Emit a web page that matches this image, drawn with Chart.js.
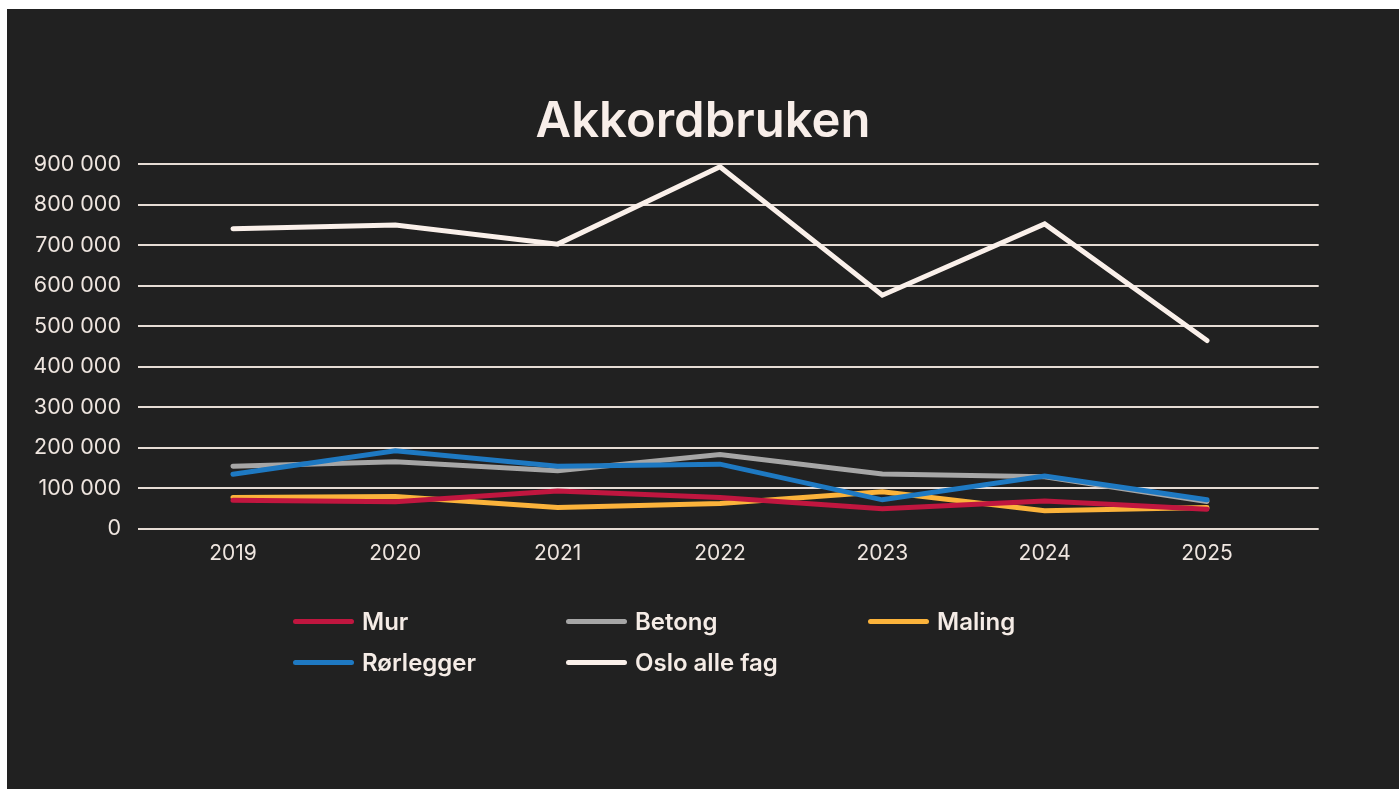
<!DOCTYPE html>
<html>
<head>
<meta charset="utf-8">
<script src="https://cdn.jsdelivr.net/npm/chart.js@4"></script>
<style>
  html, body { margin: 0; padding: 0; background: #ffffff; }
  body { width: 1399px; height: 789px; position: relative; overflow: hidden; }
  #wrap { position: absolute; left: 7px; top: 9px; width: 1392px; height: 780px; background: #212121; }
  #legend { position: absolute; left: 293px; top: 601px; display: grid; grid-template-columns: 273px 302px auto; grid-auto-rows: 41.3px; font-family: Inter, "Noto Sans", sans-serif; font-weight: 600; font-size: 24px; color: #f5ece6; }
  .item { display: flex; align-items: center; white-space: nowrap; }
  .sw { display: inline-block; width: 61px; height: 5px; border-radius: 3px; margin-right: 8px; }
</style>
</head>
<body>
<div id="wrap"><canvas id="c"></canvas></div>
<div id="legend"></div>
<script>
const years = [2019, 2020, 2021, 2022, 2023, 2024, 2025];
const seriesNames = ["Mur", "Betong", "Maling", "Rørlegger", "Oslo alle fag"];
const mur       = [71000, 67000, 94000, 78000, 50000, 69000, 49000];
const betong    = [155000, 166000, 144000, 184000, 136000, 129000, 68000];
const maling    = [78000, 80000, 53000, 63000, 92000, 45000, 53000];
const rorlegger = [135000, 193000, 155000, 160000, 72000, 131000, 72000];
const oslo      = [741000, 750000, 703000, 894000, 577000, 753000, 465000];
const yTicks    = [0, 100000, 200000, 300000, 400000, 500000, 600000, 700000, 800000, 900000];

const colors = ["#c0163f", "#a6a6a6", "#fbb33b", "#1e79c2", "#faf0ea"];
const drawOrder = [2, 3, 4, 1, 0];
const values = [mur, betong, maling, rorlegger, oslo];

const fmt = v => String(v).replace(/\B(?=(\d{3})+(?!\d))/g, "\u00a0");

const datasets = seriesNames.map((name, i) => ({
  label: name,
  data: years.map((yr, j) => ({ x: yr, y: values[i][j] })),
  borderColor: colors[i],
  backgroundColor: colors[i],
  borderWidth: 5,
  borderCapStyle: "round",
  borderJoinStyle: "miter",
  pointRadius: 0,
  tension: 0,
  order: drawOrder[i]
}));

Chart.defaults.font.family = "Inter, 'Noto Sans', sans-serif";

new Chart(document.getElementById("c"), {
  type: "line",
  data: { datasets },
  options: {
    responsive: true,
    maintainAspectRatio: false,
    animation: false,
    layout: { padding: { left: 0, right: 0, top: 0, bottom: 200 } },
    plugins: {
      legend: { display: false },
      tooltip: { enabled: false },
      title: {
        display: true,
        text: "Akkordbruken",
        color: "#f8eee9",
        font: { size: 49, weight: "600" },
        padding: { top: 83.5, bottom: 13 }
      }
    },
    scales: {
      x: {
        type: "linear",
        min: 2018.415,
        max: 2025.688,
        grid: { display: false, drawTicks: false },
        border: { display: false },
        afterBuildTicks: s => { s.ticks = years.map(v => ({ value: v })); },
        afterFit: s => { s.height = 60; },
        ticks: {
          color: "#efe6e0",
          font: { size: 21 },
          padding: 12,
          maxRotation: 0,
          autoSkip: false,
          callback: v => String(v)
        }
      },
      y: {
        min: 0,
        max: 900000,
        grid: { color: "#e6dcd5", lineWidth: 2, drawTicks: false },
        border: { display: false },
        afterBuildTicks: s => { s.ticks = yTicks.map(v => ({ value: v })); },
        afterFit: s => { s.width = 131; },
        ticks: {
          color: "#efe6e0",
          font: { size: 21.5 },
          padding: 17,
          callback: v => fmt(v)
        }
      },
      yRight: {
        position: "right",
        display: true,
        grid: { display: false, drawTicks: false },
        border: { display: false },
        ticks: { display: false },
        afterFit: s => { s.width = 80.3; }
      }
    }
  }
});

const legend = document.getElementById("legend");
[0, 1, 2, 3, 4].forEach(i => {
  const it = document.createElement("div");
  it.className = "item";
  const sw = document.createElement("span");
  sw.className = "sw";
  sw.style.background = colors[i];
  const tx = document.createElement("span");
  tx.textContent = seriesNames[i];
  it.appendChild(sw);
  it.appendChild(tx);
  legend.appendChild(it);
});
</script>
</body>
</html>
